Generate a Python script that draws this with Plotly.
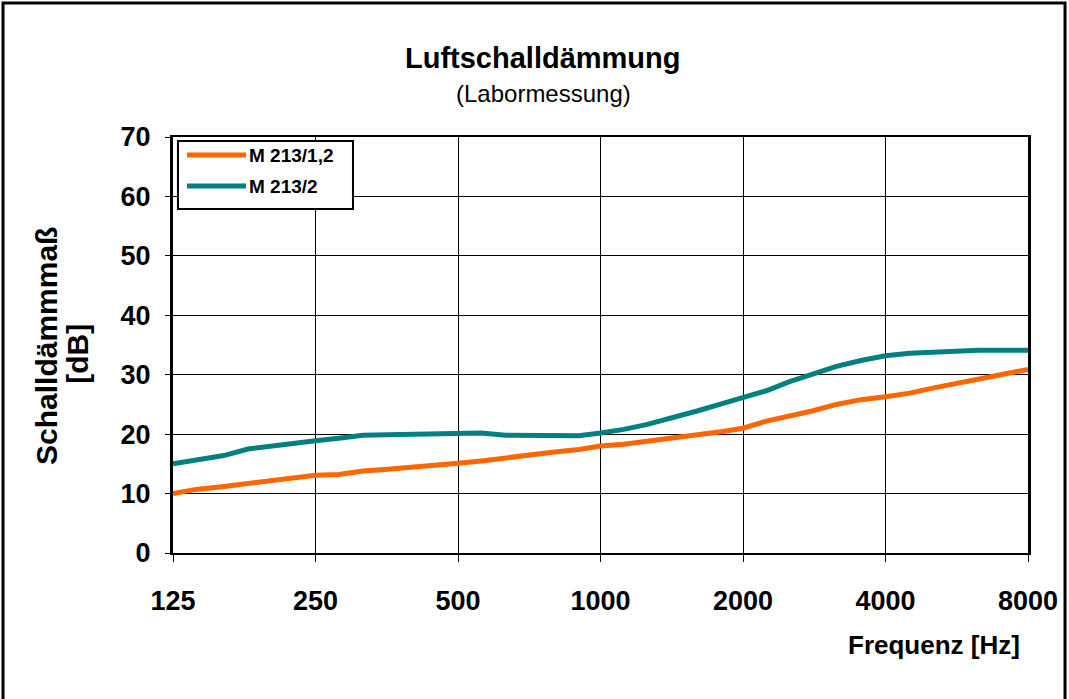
import plotly.graph_objects as go

freqs = [125, 140, 160, 180, 200, 224, 250, 280, 315, 355, 400, 450, 500, 560,
         630, 710, 800, 900, 1000, 1120, 1250, 1400, 1600, 1800, 2000, 2240,
         2500, 2800, 3150, 3550, 4000, 4500, 5000, 5600, 6300, 7100, 8000]

m213_12 = [10.0, 10.7, 11.2, 11.7, 12.1, 12.6, 13.1, 13.2, 13.8, 14.1, 14.4, 14.7,
           15.1, 15.5, 16.0, 16.7, 17.0, 17.4, 18.0, 18.3, 18.8, 19.5, 19.9, 20.4,
           21.0, 22.2, 23.0, 23.9, 25.0, 25.8, 26.3, 26.9, 27.7, 28.5, 29.3, 30.1, 30.9]

m213_2 = [15.0, 15.7, 16.4, 17.5, 18.0, 18.5, 18.9, 19.3, 19.8, 19.9, 20.0, 20.1,
          20.2, 20.2, 19.8, 19.75, 19.75, 19.75, 20.2, 20.8, 21.6, 22.6, 23.9, 25.1,
          26.1, 27.3, 28.8, 30.1, 31.4, 32.4, 33.2, 33.6, 33.8, 34.0, 34.1, 34.1, 34.1]

series_names = ["M 213/1,2", "M 213/2"]
series_colors = ["#FF6600", "#008080"]

tick_freqs = [125, 250, 500, 1000, 2000, 4000, 8000]
y_ticks = [0, 10, 20, 30, 40, 50, 60, 70]

FONT = "Liberation Sans, Arial, sans-serif"

fig = go.Figure()
for vals, name, col in zip([m213_12, m213_2], series_names, series_colors):
    fig.add_trace(go.Scatter(x=freqs, y=vals, mode="lines", name=name,
                             line=dict(color=col, width=5), showlegend=False))

fig.update_layout(
    width=1069, height=699,
    margin=dict(l=173, r=41, t=137, b=146),
    paper_bgcolor="white", plot_bgcolor="white",
    font=dict(family=FONT, color="black"),
    showlegend=False,
)

fig.update_xaxes(type="log", range=[2.0969, 3.9031],
                 tickvals=tick_freqs, ticktext=[str(t) for t in tick_freqs],
                 tickfont=dict(size=27, family=FONT, weight="bold"),
                 showgrid=True, gridcolor="black", gridwidth=1,
                 showline=True, linecolor="black", linewidth=2, mirror=True,
                 ticks="outside", ticklen=7, tickcolor="black", ticklabelstandoff=16,
                 zeroline=False)
fig.update_yaxes(range=[0, 70], tickvals=y_ticks,
                 tickfont=dict(size=27, family=FONT, weight="bold"),
                 showgrid=True, gridcolor="black", gridwidth=1,
                 showline=True, linecolor="black", linewidth=3, mirror=True,
                 ticks="outside", ticklen=5, tickcolor="black", ticklabelstandoff=9,
                 zeroline=False)

# Titles
fig.add_annotation(text="<b>Luftschalldämmung</b>", xref="paper", yref="paper",
                   x=0.433, y=1.0, yshift=79, showarrow=False,
                   font=dict(size=29, family=FONT), yanchor="middle")
fig.add_annotation(text="(Labormessung)", xref="paper", yref="paper",
                   x=0.433, y=1.0, yshift=44, showarrow=False,
                   font=dict(size=24, family=FONT), yanchor="middle")
fig.add_annotation(text="<b>Frequenz [Hz]</b>", xref="paper", yref="paper",
                   x=0.993, y=0, yshift=-92, xanchor="right", yanchor="middle",
                   showarrow=False, font=dict(size=26, family=FONT))
fig.add_annotation(text="<b>Schalldämmmaß</b>", xref="paper", yref="paper",
                   x=-0.1474, y=0.4976, textangle=-90, showarrow=False,
                   xanchor="center", yanchor="middle",
                   font=dict(size=30, family=FONT))
fig.add_annotation(text="<b>[dB]</b>", xref="paper", yref="paper",
                   x=-0.1111, y=0.479, textangle=-90, showarrow=False,
                   xanchor="center", yanchor="middle",
                   font=dict(size=30, family=FONT))

# Custom legend (box, line samples, labels)
fig.add_shape(type="rect", xref="paper", yref="paper",
              x0=0.0058, x1=0.2105, y0=0.8269, y1=0.9904,
              line=dict(color="black", width=2), fillcolor="white", layer="above")
legend_y = [0.9567, 0.8822]
for ly, name, col in zip(legend_y, series_names, series_colors):
    fig.add_shape(type="line", xref="paper", yref="paper",
                  x0=0.0164, x1=0.0854, y0=ly, y1=ly,
                  line=dict(color=col, width=5), layer="above")
    fig.add_annotation(text="<b>" + name + "</b>", xref="paper", yref="paper",
                       x=0.0865, y=ly, xanchor="left", yanchor="middle",
                       showarrow=False, font=dict(size=19, family=FONT))

# Outer frame
fig.add_shape(type="rect", xref="paper", yref="paper",
              x0=-0.1988, x1=1.0433, y0=-0.6, y1=1.3221,
              line=dict(color="black", width=3), fillcolor="rgba(0,0,0,0)", layer="below")

fig.write_html("out.html", config={"displayModeBar": False},
               post_script="document.body.style.margin='0px';")
